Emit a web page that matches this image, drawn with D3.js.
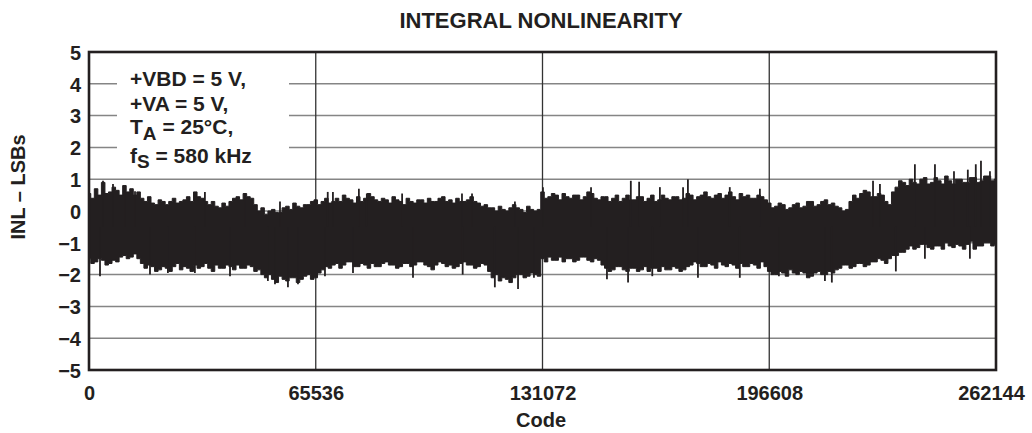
<!DOCTYPE html>
<html><head><meta charset="utf-8">
<script src="https://cdn.jsdelivr.net/npm/d3@7"></script>
<style>
body{margin:0;background:#fff}
svg{display:block}
text{font-family:"Liberation Sans",Arial,Helvetica,sans-serif;font-weight:bold;fill:#231f20}
</style>
</head><body><svg id="c" width="1032" height="433"></svg>
<script>
// ---- data ----
const xTicks = [0, 65536, 131072, 196608, 262144];
const yTicks = [-5, -4, -3, -2, -1, 0, 1, 2, 3, 4, 5];
const sampleStep = 1024; // codes between envelope samples
// upper envelope of the INL band (LSB), one value per 1024 codes
const inlMax = [
  0.55,0.4, 0.7,0.5, 0.9,0.55, 0.6,0.75, 0.65,0.5, 0.8,0.6, 0.7,0.5, 0.6,0.4, 0.3,0.45, 0.25,0.2,
  0.35,0.3, 0.2,0.3, 0.4,0.25, 0.3,0.35, 0.45,0.3, 0.6,0.45, 0.4,0.3, 0.2,0.3, 0.15,0.1, 0.25,0.15,
  0.3,0.4, 0.45,0.35, 0.55,0.45, 0.4,0.2, 0.0,0.1, -0.1,0.0, 0.05,-0.05, -0.05,0.1, 0.15,0.05, 0.25,0.15,
  0.1,0.2, 0.2,0.3, 0.35,0.2, 0.3,0.4, 0.25,0.3, 0.4,0.3, 0.5,0.4, 0.35,0.25, 0.45,0.3, 0.4,0.55,
  0.45,0.35, 0.3,0.4, 0.35,0.25, 0.45,0.35, 0.3,0.2, 0.4,0.3, 0.25,0.35, 0.35,0.25, 0.4,0.3, 0.3,0.4,
  0.45,0.3, 0.35,0.25, 0.4,0.3, 0.3,0.35, 0.45,0.3, 0.25,0.15, 0.2,0.1, 0.1,0.0, 0.15,0.05, 0.0,0.1,
  0.2,0.1, 0.05,-0.05, 0.15,0.05, 0.0,0.05,
  0.6,0.4, 0.45,0.55, 0.5,0.35, 0.55,0.45, 0.4,0.5, 0.5,0.35, 0.45,0.6, 0.55,0.4, 0.35,0.45, 0.45,0.3,
  0.4,0.5, 0.3,0.4, 0.5,0.35, 0.35,0.45, 0.45,0.3, 0.4,0.5, 0.3,0.35, 0.5,0.4, 0.35,0.45, 0.45,0.35,
  0.4,0.55, 0.5,0.35, 0.45,0.5, 0.6,0.45, 0.4,0.5, 0.55,0.4, 0.5,0.6, 0.45,0.35, 0.55,0.45, 0.5,0.4,
  0.4,0.5, 0.45,0.35, 0.25,0.1, 0.15,0.25, 0.2,0.05, 0.1,0.2, 0.25,0.1, 0.15,0.3, 0.3,0.15, 0.2,0.3,
  0.35,0.2, 0.25,0.15, 0.1,0.0, 0.05,0.3, 0.5,0.4, 0.55,0.65, 0.6,0.45, 0.45,0.55, 0.5,0.3, 0.2,0.6,
  0.75,0.95, 0.9,0.8, 1.0,0.9, 0.85,1.0, 1.05,0.85, 0.9,1.05, 0.95,0.85, 1.1,0.95, 0.85,1.0, 1.0,0.9,
  0.9,1.05, 1.05,0.9, 0.95,1.1, 1.1,0.95, 1.0
];
// lower envelope of the INL band (LSB)
const inlMin = [
  -1.5,-1.65, -1.6,-1.5, -1.55,-1.7, -1.65,-1.55, -1.6,-1.45, -1.4,-1.5, -1.45,-1.35, -1.5,-1.65, -1.8,-1.7, -1.75,-1.9,
  -1.85,-1.75, -1.8,-1.9, -1.75,-1.65, -1.85,-1.75, -1.8,-1.9, -1.7,-1.8, -1.75,-1.65, -1.8,-1.9, -1.7,-1.8, -1.8,-1.7,
  -1.75,-1.85, -1.7,-1.8, -1.8,-1.7, -1.75,-1.9, -1.85,-2.0, -2.1,-2.0, -2.15,-2.25, -2.05,-2.15, -2.2,-2.1, -2.1,-2.25,
  -2.15,-2.05, -2.0,-2.15, -2.1,-1.95, -1.85,-1.75, -1.8,-1.7, -1.65,-1.8, -1.7,-1.6, -1.6,-1.75, -1.75,-1.65, -1.7,-1.8,
  -1.65,-1.75, -1.75,-1.65, -1.6,-1.7, -1.7,-1.8, -1.75,-1.65, -1.65,-1.75, -1.7,-1.6, -1.6,-1.7, -1.75,-1.85, -1.7,-1.6,
  -1.65,-1.75, -1.7,-1.8, -1.75,-1.65, -1.6,-1.7, -1.7,-1.8, -1.75,-1.65, -1.7,-1.9, -2.1,-2.0, -2.2,-2.1, -2.15,-2.25,
  -2.1,-2.0, -2.0,-2.1, -2.05,-1.95, -2.0,-2.05,
  -1.5,-1.6, -1.45,-1.55, -1.55,-1.45, -1.6,-1.5, -1.5,-1.6, -1.55,-1.45, -1.45,-1.55, -1.6,-1.5, -1.55,-1.7, -1.8,-1.9,
  -1.85,-1.75, -1.75,-1.85, -1.9,-1.8, -1.8,-1.9, -1.85,-1.75, -1.9,-1.8, -1.8,-1.9, -1.75,-1.85, -1.85,-1.75, -1.8,-1.9,
  -1.85,-1.75, -1.7,-1.6, -1.65,-1.75, -1.75,-1.65, -1.7,-1.8, -1.6,-1.7, -1.75,-1.65, -1.7,-1.8, -1.65,-1.75, -1.75,-1.65,
  -1.7,-1.8, -1.6,-1.75, -1.9,-2.0, -2.0,-1.9, -1.95,-2.05, -1.85,-1.95, -2.0,-1.9, -1.95,-2.1, -2.05,-1.95, -1.9,-2.0,
  -2.0,-1.9, -1.95,-1.85, -1.8,-1.7, -1.7,-1.8, -1.75,-1.65, -1.65,-1.75, -1.7,-1.6, -1.6,-1.5, -1.55,-1.65, -1.5,-1.4,
  -1.4,-1.3, -1.3,-1.2, -1.1,-1.2, -1.15,-1.05, -1.05,-1.15, -1.2,-1.1, -1.1,-1.2, -1.0,-1.1, -1.15,-1.05, -1.1,-1.2,
  -1.05,-0.95, -1.2,-1.1, -1.1,-1.0, -1.0,-1.1, -1.05
];
// isolated positive spikes
const peakCodes  = [4046, 6937, 10400, 13300, 33500, 45100, 55200, 69000, 70500, 78000,
                    80300, 90500, 107800, 110700, 123100, 131200, 145100, 156600, 159000, 165000,
                    171700, 173100, 185200, 193900, 226600, 228600, 238700, 244500, 250000, 254000,
                    256300, 257800, 260400];
const peakValues = [0.95, 0.85, 0.78, 0.62, 0.6, 0.55, 0.3, 0.6, 0.6, 0.7,
                    0.55, 0.55, 0.55, 0.55, 0.3, 0.75, 0.75, 0.95, 0.92, 0.75,
                    0.75, 1.0, 0.75, 0.7, 0.95, 0.85, 1.47, 1.47, 1.25, 1.3,
                    1.47, 1.58, 1.25];
// isolated negative spikes
const dipCodes  = [3180, 17630, 22800, 30600, 40750, 51700, 53750, 57500, 60400, 68200,
                   76300, 93640, 108000, 117300, 124000, 128600, 149700, 155800, 162800, 176000,
                   188100, 199400, 212700, 214700, 233200, 241600, 254600];
const dipValues = [-2.05, -2.0, -1.95, -1.95, -2.05, -2.2, -2.3, -2.4, -2.3, -2.05,
                   -1.95, -2.1, -2.0, -2.4, -2.45, -2.1, -2.15, -2.25, -2.05, -2.1,
                   -2.1, -2.05, -2.2, -2.25, -1.9, -1.5, -1.5];
const titleText = "INTEGRAL NONLINEARITY";
const xLabel = "Code";
const yLabel = "INL \u2013 LSBs";

// ---- chart ----
const svg = d3.select("#c");
const x = d3.scaleLinear().domain([0, 262144]).range([89, 996]);
const y = d3.scaleLinear().domain([-5, 5]).range([370, 52]);
const ink = "#231f20";

// horizontal grid
svg.append("g").selectAll("line").data(yTicks.slice(1, -1)).join("line")
  .attr("x1", x(0)).attr("x2", x(262144))
  .attr("y1", d => y(d)).attr("y2", d => y(d))
  .attr("stroke", "#858585").attr("stroke-width", 1.5);
// vertical grid
svg.append("g").selectAll("line").data(xTicks.slice(1, -1)).join("line")
  .attr("x1", d => x(d)).attr("x2", d => x(d))
  .attr("y1", y(5)).attr("y2", y(-5))
  .attr("stroke", "#333").attr("stroke-width", 1.3);

// annotation box (white, hides grid)
svg.append("rect").attr("x", 117).attr("y", 60).attr("width", 172).attr("height", 110).attr("fill", "#fff");

// data band
const env = inlMax.map((v, i) => ({code: i * sampleStep, hi: v, lo: inlMin[i]}));
svg.append("clipPath").attr("id", "pc").append("rect")
  .attr("x", x(0)).attr("y", y(5)).attr("width", x(262144) - x(0)).attr("height", y(-5) - y(5));
const plot = svg.append("g").attr("clip-path", "url(#pc)");
plot.append("path").datum(env)
  .attr("d", d3.area().curve(d3.curveStep).x(d => x(d.code)).y0(d => y(d.lo)).y1(d => y(d.hi)))
  .attr("fill", ink).attr("stroke", ink).attr("stroke-width", 1);
plot.append("g").selectAll("line").data(peakCodes.map((c, i) => [c, peakValues[i]])).join("line")
  .attr("x1", d => x(d[0])).attr("x2", d => x(d[0]))
  .attr("y1", y(-0.5)).attr("y2", d => y(d[1]))
  .attr("stroke", ink).attr("stroke-width", 1.8);
plot.append("g").selectAll("line").data(dipCodes.map((c, i) => [c, dipValues[i]])).join("line")
  .attr("x1", d => x(d[0])).attr("x2", d => x(d[0]))
  .attr("y1", y(-0.5)).attr("y2", d => y(d[1]))
  .attr("stroke", ink).attr("stroke-width", 1.8);

// frame
svg.append("rect").attr("x", x(0)).attr("y", y(5)).attr("width", x(262144) - x(0)).attr("height", y(-5) - y(5))
  .attr("fill", "none").attr("stroke", ink).attr("stroke-width", 2.6);

// axes
const fmt = d => d < 0 ? "\u2212" + Math.abs(d) : String(d);
const ya = svg.append("g").attr("transform", `translate(${x(0)},0)`)
  .call(d3.axisLeft(y).tickValues(yTicks).tickSize(0).tickPadding(8).tickFormat(fmt));
ya.select(".domain").remove();
ya.selectAll("text").attr("font-size", 20).attr("font-family", null).attr("fill", ink).attr("dy", "0.36em");
const xa = svg.append("g").attr("transform", `translate(0,${y(-5)})`)
  .call(d3.axisBottom(x).tickValues(xTicks).tickSize(0).tickPadding(16).tickFormat(d => String(d)));
xa.select(".domain").remove();
xa.selectAll("text").attr("font-size", 20).attr("font-family", null).attr("fill", ink).attr("dy", "0.71em");
xa.selectAll(".tick").filter(d => d === 262144).select("text").attr("dx", -5);

// titles
svg.append("text").attr("x", 541).attr("y", 28).attr("text-anchor", "middle").attr("font-size", 22).text(titleText);
svg.append("text").attr("x", 541).attr("y", 427).attr("text-anchor", "middle").attr("font-size", 20).text(xLabel);
svg.append("text").attr("transform", "translate(25,187) rotate(-90)").attr("text-anchor", "middle").attr("font-size", 20).text(yLabel);

// conditions note
const note = svg.append("g").attr("font-size", 21);
note.append("text").attr("x", 130).attr("y", 86).text("+VBD = 5 V,");
note.append("text").attr("x", 130).attr("y", 111).text("+VA = 5 V,");
const t3 = note.append("text").attr("x", 130).attr("y", 134);
t3.append("tspan").text("T");
t3.append("tspan").attr("dy", 6).attr("font-size", 19).text("A");
t3.append("tspan").attr("dy", -6).text(" = 25\u00B0C,");
const t4 = note.append("text").attr("x", 130).attr("y", 163);
t4.append("tspan").text("f");
t4.append("tspan").attr("dy", 5).attr("font-size", 19).text("S");
t4.append("tspan").attr("dy", -5).text(" = 580 kHz");
</script>
</body></html>
